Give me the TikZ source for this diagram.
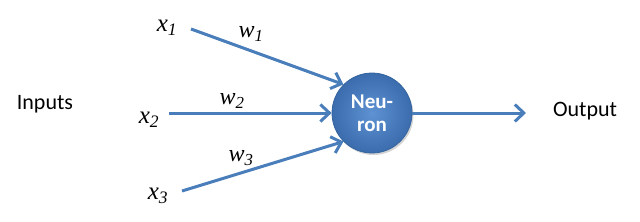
\documentclass[tikz,border=0pt]{standalone}
\usepackage{fontspec}
\setmainfont{Liberation Serif}
\newfontfamily\calibri{Carlito}
\usetikzlibrary{arrows.meta,shadows}
\definecolor{arrowblue}{HTML}{4A7EBB}
\definecolor{ballin}{HTML}{5E92D3}
\definecolor{ballout}{HTML}{3B6CAD}
\definecolor{balledge}{HTML}{35659F}
\newcommand{\vlab}[2]{#1\textsubscript{#2}}
\tikzset{
  link/.style={draw=arrowblue, line width=3pt, -{Straight Barb[length=9pt,width=17pt,line width=3pt]}},
  varlabel/.style={font=\fontsize{25}{25}\selectfont\itshape, inner sep=0pt},
  wlabel/.style={font=\fontsize{24}{24}\selectfont\itshape, inner sep=0pt},
  plain/.style={font=\calibri\fontsize{22}{24}\selectfont, inner sep=0pt},
  neuron/.style={circle, minimum size=80pt, inner sep=0pt, draw=balledge, line width=0.8pt,
    inner color=ballin, outer color=ballout, text=white,
    font=\calibri\bfseries\fontsize{21}{23}\selectfont, align=center,
    drop shadow={shadow xshift=1.5pt, shadow yshift=-2pt, opacity=0.35}}
}
\begin{document}
\begin{tikzpicture}[x=1pt,y=-1pt]
\useasboundingbox (0,0) rectangle (640,222);
\node[neuron] (n) at (372,113) {Neu-\\ron};
\node[plain] (in) at (45,104) {Inputs};
\node[plain] (out) at (585,111) {Output};
\node[varlabel] (x1) at (167,28) {\vlab{x}{1}};
\node[varlabel] (x2) at (149,120) {\vlab{x}{2}};
\node[varlabel] (x3) at (158,196) {\vlab{x}{3}};
\node[wlabel] (w1) at (251,34) {\vlab{w}{1}};
\node[wlabel] (w2) at (232,101) {\vlab{w}{2}};
\node[wlabel] (w3) at (241,158) {\vlab{w}{3}};
\coordinate (s1) at (191,29);
\coordinate (s2) at (169,113);
\coordinate (s3) at (182,191);
\coordinate (e) at (526,113);
\draw[link] (s1) -- (n.135);
\draw[link] (s2) -- (n.west);
\draw[link] (s3) -- (n.-135);
\draw[link] (n.east) -- (e);
\end{tikzpicture}
\end{document}
